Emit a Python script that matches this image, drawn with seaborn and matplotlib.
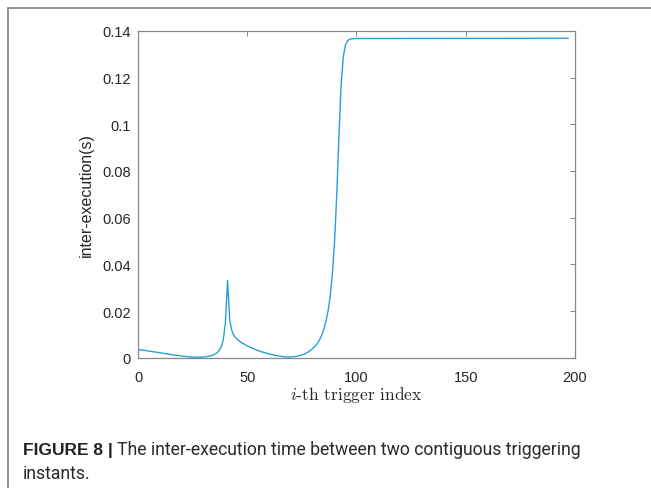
import matplotlib
matplotlib.use("Agg")
import matplotlib.pyplot as plt
import seaborn as sns
from matplotlib.lines import Line2D

# values
trigger_idx = [0, 2, 4, 6, 8, 10, 12, 14, 16, 18, 20, 22, 24, 26, 28, 30, 32, 34, 35, 36,
               37, 38, 39, 40, 41, 42, 43, 44, 45, 46, 47, 48, 50, 52, 54, 56, 58, 60, 62, 64,
               66, 68, 70, 72, 74, 76, 78, 80, 82, 83, 84, 85, 86, 87, 88, 89, 90, 91, 92, 93,
               94, 95, 96, 97, 98, 100, 197]
inter_exec = [0.0036, 0.0034, 0.0031, 0.0028, 0.0025, 0.0022, 0.0019, 0.0016, 0.0013, 0.0011,
              0.0008, 0.0006, 0.0004, 0.0003, 0.0003, 0.0004, 0.0006, 0.0011, 0.0015, 0.0021,
              0.0030, 0.0045, 0.0075, 0.0150, 0.0332, 0.0160, 0.0115, 0.0095, 0.0083, 0.0075,
              0.0068, 0.0062, 0.0052, 0.0043, 0.0035, 0.0028, 0.0022, 0.0017, 0.0013, 0.0009,
              0.0006, 0.0004, 0.0004, 0.0006, 0.0010, 0.0016, 0.0026, 0.0040, 0.0060, 0.0075,
              0.0095, 0.0120, 0.0155, 0.0200, 0.0265, 0.0360, 0.0500, 0.0700, 0.0950, 0.1170,
              0.1290, 0.1340, 0.1358, 0.1364, 0.1366, 0.1367, 0.1368]

x_ticks = [0, 50, 100, 150, 200]
y_ticks = [0, 0.02, 0.04, 0.06, 0.08, 0.1, 0.12, 0.14]
y_tick_labels = ["0", "0.02", "0.04", "0.06", "0.08", "0.1", "0.12", "0.14"]

sns.set_theme(style="white")
plt.rcParams["font.family"] = ["Liberation Sans", "DejaVu Sans"]
plt.rcParams["mathtext.fontset"] = "cm"
plt.rcParams["axes.unicode_minus"] = False

fig = plt.figure(figsize=(6.51, 4.89), dpi=100)
ax = fig.add_axes([0.212, 0.266, 0.671, 0.669])

sns.lineplot(x=trigger_idx, y=inter_exec, ax=ax, color="#2a9edb", linewidth=1.0)

ax.set_xlim(0, 200)
ax.set_ylim(0, 0.14)
ax.set_xticks(x_ticks)
ax.set_xticklabels([str(t) for t in x_ticks])
ax.set_yticks(y_ticks)
ax.set_yticklabels(y_tick_labels)
ax.tick_params(direction="in", length=3.5, width=0.7, top=True, right=True,
               labelsize=10.5, colors="#888888", labelcolor="#262626", pad=5)
ax.tick_params(axis="x", pad=9)
for sp in ax.spines.values():
    sp.set_color("#888888")
    sp.set_linewidth(0.9)

ax.set_ylabel("inter-execution(s)", fontsize=11.5, color="#262626", labelpad=6)
ax.set_xlabel(r"$i$-th trigger index", fontsize=12.5, color="#262626", labelpad=0,
              family="cmr10")

# frame lines of the figure panel
fig.add_artist(Line2D([8 / 651, 1.0], [1 - 9 / 489, 1 - 9 / 489], color="#8a8a8a", lw=1.3))
fig.add_artist(Line2D([8 / 651, 8 / 651], [0, 1 - 9 / 489], color="#8a8a8a", lw=1.3))

# caption
cap_y = 1 - 455 / 489
t1 = fig.text(23 / 651, cap_y, "FIGURE 8 |", fontsize=12.5, fontweight="bold",
              family=["Liberation Sans", "DejaVu Sans"], color="#222222", va="baseline")
fig.canvas.draw()
bb = t1.get_window_extent(renderer=fig.canvas.get_renderer())
fig.text(bb.x1 / fig.bbox.width + 4 / 651, cap_y,
         "The inter-execution time between two contiguous triggering",
         fontsize=12.7, family=["Roboto", "DejaVu Sans"],
         color="#2a2a2a", va="baseline")
fig.text(23 / 651, 1 - 479 / 489, "instants.", fontsize=12.7,
         family=["Roboto", "DejaVu Sans"], color="#2a2a2a", va="baseline")

fig.savefig("out.png", dpi=100)
